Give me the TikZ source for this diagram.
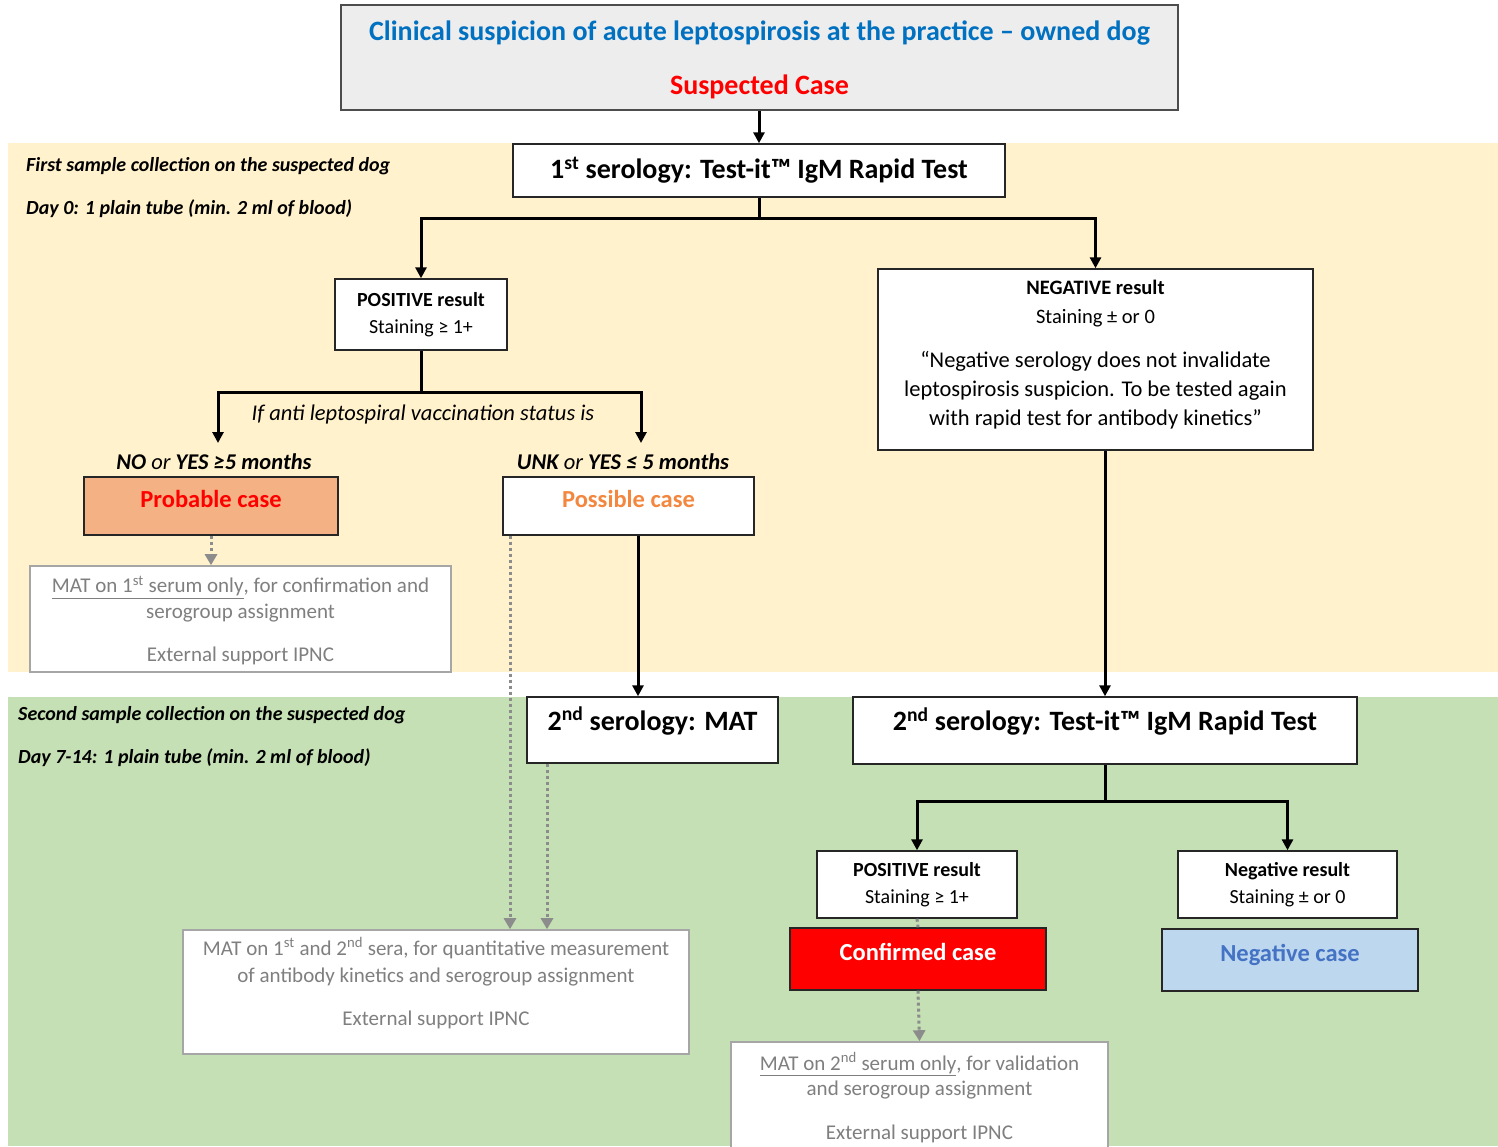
\documentclass[tikz,border=0pt]{standalone}
\usepackage{fontspec}
\setmainfont{Carlito}
\usetikzlibrary{arrows.meta,calc}
\definecolor{bandY}{HTML}{FFF2CC}
\definecolor{bandG}{HTML}{C5E0B4}
\definecolor{topgray}{HTML}{EDEDED}
\definecolor{titleblue}{HTML}{0070C0}
\definecolor{probfill}{HTML}{F4B183}
\definecolor{possorange}{HTML}{F4873F}
\definecolor{negfill}{HTML}{BDD7EE}
\definecolor{negblue}{HTML}{4472C4}
\definecolor{graytext}{HTML}{7F7F7F}
\definecolor{grayline}{HTML}{A6A6A6}
\definecolor{dotgray}{HTML}{8C8C8C}
\newcommand\quotefont{\fontsize{22.5}{29}\selectfont}
\begin{document}
\begin{tikzpicture}[x=1pt,y=-1pt,
  box/.style={draw=black!85, line width=1.4pt, fill=white, inner sep=0pt, align=center},
  matbox/.style={draw=grayline, line width=1.6pt, fill=white, inner sep=0pt, align=center, text=graytext, font=\fontsize{21}{26}\selectfont},
  bigtxt/.style={font=\fontsize{28}{32}\selectfont\bfseries},
  restxt/.style={font=\fontsize{20}{26.5}\selectfont},
  casetxt/.style={font=\fontsize{24.5}{28}\selectfont\bfseries, text height=14pt, text depth=12pt},
  bandtxt/.style={anchor=west, inner sep=0pt, font=\fontsize{20}{24}\selectfont\bfseries\itshape},
  vactxt/.style={inner sep=0pt, font=\fontsize{22.5}{26}\selectfont\itshape},
  conn/.style={line width=3pt, -{Triangle[length=11pt,width=11pt]}},
  stem/.style={line width=3pt},
  dotconn/.style={draw=dotgray, line width=3pt, dash pattern=on 3pt off 3pt, -{Triangle[length=11pt,width=12pt]}},
  dotline/.style={draw=dotgray, line width=3pt, dash pattern=on 3pt off 3pt}]
\clip (0,0) rectangle (1498,1146);
\fill[white] (0,0) rectangle (1498,1146);
\fill[bandY] (8,143) rectangle (1498,672);
\fill[bandG] (8,697) rectangle (1498,1146);

% band labels
\node[bandtxt] (t1) at (26,166) {First sample collection on the suspected dog};
\node[bandtxt] (t2) at (26,209) {Day 0: 1 plain tube (min. 2 ml of blood)};
\node[bandtxt] (t3) at (18,715) {Second sample collection on the suspected dog};
\node[bandtxt] (t4) at (18,758) {Day 7-14: 1 plain tube (min. 2 ml of blood)};

% top box
\node[box, fill=topgray, draw=black!70, minimum width=837, minimum height=105,
  font=\fontsize{28}{30}\selectfont\bfseries, text depth=0pt] (top) at (759.5,57.5)
  {\textcolor{titleblue}{Clinical suspicion of acute leptospirosis at the practice – owned dog}\\[24pt]\textcolor{red}{Suspected Case}};

\node[box, bigtxt, minimum width=492, minimum height=53] (ser1) at (759,170.5)
  {1\textsuperscript{st} serology: Test-it™ IgM Rapid Test};

\node[box, restxt, minimum width=172, minimum height=71] (pos1) at (421,314.5)
  {\textbf{POSITIVE result}\\Staining ≥ 1+};

\node[box, font=\fontsize{20.5}{29}\selectfont, minimum width=435, minimum height=181, text depth=14pt] (neg1) at (1095.5,359.5)
  {\textbf{NEGATIVE result}\\Staining ± or 0\\[15pt]{\quotefont “Negative serology does not invalidate}\\{\quotefont leptospirosis suspicion. To be tested again}\\{\quotefont with rapid test for antibody kinetics”}};

% vaccination labels
\node[vactxt] (vac) at (423,414) {If anti leptospiral vaccination status is};
\node[vactxt] (lno) at (214,462) {\textbf{NO} or \textbf{YES ≥5 months}};
\node[vactxt] (lunk) at (623,462) {\textbf{UNK} or \textbf{YES ≤ 5 months}};

\node[box, casetxt, fill=probfill, text=red, minimum width=254, minimum height=58] (prob) at (211,506) {Probable case};
\node[box, casetxt, text=possorange, minimum width=251, minimum height=58] (poss) at (628.5,506) {Possible case};

\node[matbox, minimum width=421, minimum height=106, text depth=0pt] (mat1) at (240.5,619)
  {\underline{MAT on 1\textsuperscript{st} serum only}, for confirmation and\\serogroup assignment\\[17pt]External support IPNC};

% second band
\node[box, bigtxt, minimum width=251, minimum height=66, text height=16pt, text depth=16pt] (mat2) at (652.5,730) {2\textsuperscript{nd} serology: MAT};
\node[box, bigtxt, minimum width=504, minimum height=67, text height=16pt, text depth=16pt] (ser2) at (1105,730.5) {2\textsuperscript{nd} serology: Test-it™ IgM Rapid Test};

\node[box, restxt, minimum width=200, minimum height=67] (pos2) at (917,884.5) {\textbf{POSITIVE result}\\Staining ≥ 1+};
\node[box, restxt, minimum width=219, minimum height=67] (neg2) at (1287.5,884.5) {\textbf{Negative result}\\Staining ± or 0};

\node[box, casetxt, fill=red, text=white, minimum width=256, minimum height=62] (conf) at (918,959) {Confirmed case};
\node[box, casetxt, fill=negfill, text=negblue, minimum width=256, minimum height=62] (negc) at (1290,960) {Negative case};

\node[matbox, font=\fontsize{21}{27}\selectfont, minimum width=506, minimum height=124, text depth=21pt] (sera) at (436,992)
  {MAT on 1\textsuperscript{st} and 2\textsuperscript{nd} sera, for quantitative measurement\\of antibody kinetics and serogroup assignment\\[16pt]External support IPNC};

\node[matbox, font=\fontsize{21}{25}\selectfont, minimum width=377, minimum height=111] (mat3) at (919.5,1097.5)
  {\underline{MAT on 2\textsuperscript{nd} serum only}, for validation\\and serogroup assignment\\[19pt]External support IPNC};

% helper coordinates
\coordinate (j1) at (759,218);
\coordinate (j2) at (421,392);
\coordinate (a1) at (218,443);
\coordinate (a2) at (641,443);
\coordinate (j3) at (1105,801);
\coordinate (x638) at (638,0);
\coordinate (x510) at (510,0);
\coordinate (x547) at (547,0);

% connectors
\draw[conn] (top.south -| ser1.north) -- (ser1.north);
\draw[stem] (ser1.south) -- (j1);
\draw[conn] (j1) -| (pos1.north);
\draw[conn] (j1) -| (neg1.north);
\draw[stem] (pos1.south) -- (j2);
\draw[conn] (j2) -| (a1);
\draw[conn] (j2) -| (a2);
\draw[dotconn] (prob.south) -- (mat1.north -| prob.south);
\draw[conn] (poss.south -| x638) -- (mat2.north -| x638);
\draw[dotconn] (poss.south -| x510) -- (sera.north -| x510);
\draw[dotconn] (mat2.south -| x547) -- (sera.north -| x547);
\draw[conn] (neg1.south -| ser2.north) -- (ser2.north);
\draw[stem] (ser2.south) -- (j3);
\draw[conn] (j3) -| (pos2.north);
\draw[conn] (j3) -| (neg2.north);
\draw[dotline] (pos2.south) -- (conf.north);
\draw[dotconn] (conf.south) -- (mat3.north);
\end{tikzpicture}
\end{document}
